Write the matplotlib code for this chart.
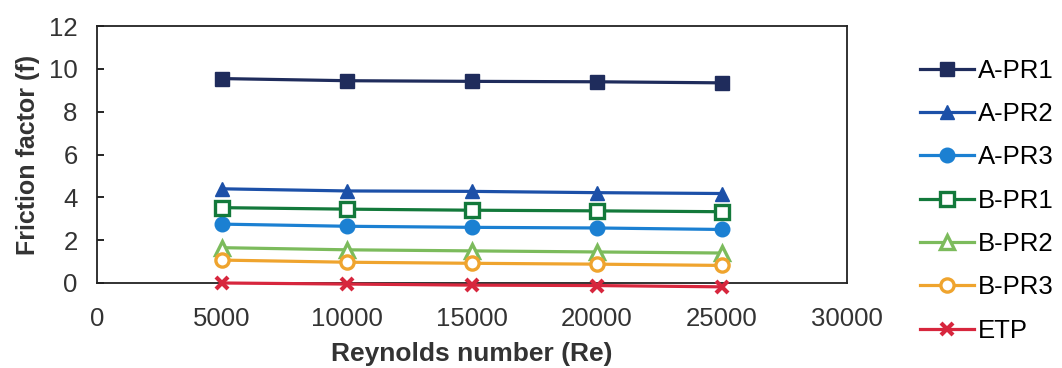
import matplotlib.pyplot as plt

plt.rcParams['font.family'] = ['Liberation Sans', 'DejaVu Sans']

# Dados
reynolds = [5000, 10000, 15000, 20000, 25000]
a_pr1 = [9.55, 9.45, 9.42, 9.40, 9.35]
a_pr2 = [4.40, 4.30, 4.28, 4.22, 4.18]
a_pr3 = [2.75, 2.65, 2.60, 2.57, 2.50]
b_pr1 = [3.52, 3.45, 3.40, 3.37, 3.33]
b_pr2 = [1.65, 1.55, 1.50, 1.45, 1.40]
b_pr3 = [1.07, 0.97, 0.92, 0.88, 0.82]
etp = [0.00, -0.05, -0.10, -0.12, -0.18]

x_ticks = [0, 5000, 10000, 15000, 20000, 25000, 30000]
y_ticks = [0, 2, 4, 6, 8, 10, 12]

series = [
    ('A-PR1', a_pr1, '#1f2c5c', 's', True),
    ('A-PR2', a_pr2, '#1c50a8', '^', True),
    ('A-PR3', a_pr3, '#1b80d2', 'o', True),
    ('B-PR1', b_pr1, '#13793b', 's', False),
    ('B-PR2', b_pr2, '#7cbb5c', '^', False),
    ('B-PR3', b_pr3, '#efa42e', 'o', False),
    ('ETP', etp, '#d7263d', 'x', True),
]

fig = plt.figure(figsize=(10.62, 3.68), dpi=100)
ax = fig.add_axes([0.0913, 0.231, 0.7063, 0.698])

for name, vals, color, marker, filled in series:
    if marker == 'x':
        ax.plot(reynolds, vals, color=color, lw=2.3, marker='x', ms=9,
                mew=3, label=name, clip_on=False, zorder=3)
    elif filled:
        ax.plot(reynolds, vals, color=color, lw=2.3, marker=marker, ms=10.5,
                label=name, clip_on=False, zorder=3)
    else:
        ax.plot(reynolds, vals, color=color, lw=2.3, marker=marker, ms=9.5,
                mfc='white', mew=2.4, label=name, clip_on=False, zorder=3)

ax.set_xlim(0, 30000)
ax.set_ylim(0, 12)
ax.set_xticks(x_ticks)
ax.set_yticks(y_ticks)
ax.tick_params(axis='x', length=0, pad=17, labelsize=18.5, labelcolor='#333333')
ax.tick_params(axis='y', direction='in', length=5, width=1.2, pad=14,
               labelsize=18.5, labelcolor='#333333')
for sp in ax.spines.values():
    sp.set_linewidth(1.3)
    sp.set_color('#222222')

ax.set_xlabel('Reynolds number (Re)', fontsize=19, fontweight='bold',
              color='#333333', labelpad=8)
ax.set_ylabel('Friction factor (f)', fontsize=18, fontweight='bold',
              color='#333333', labelpad=6)

fig.legend(loc='upper left', bbox_to_anchor=(0.866, 0.84), frameon=False,
           fontsize=18.5, handlelength=2.1, handletextpad=0.15,
           labelspacing=0.75, borderaxespad=0, borderpad=0)

fig.savefig('out.png', dpi=100)
plt.close(fig)
